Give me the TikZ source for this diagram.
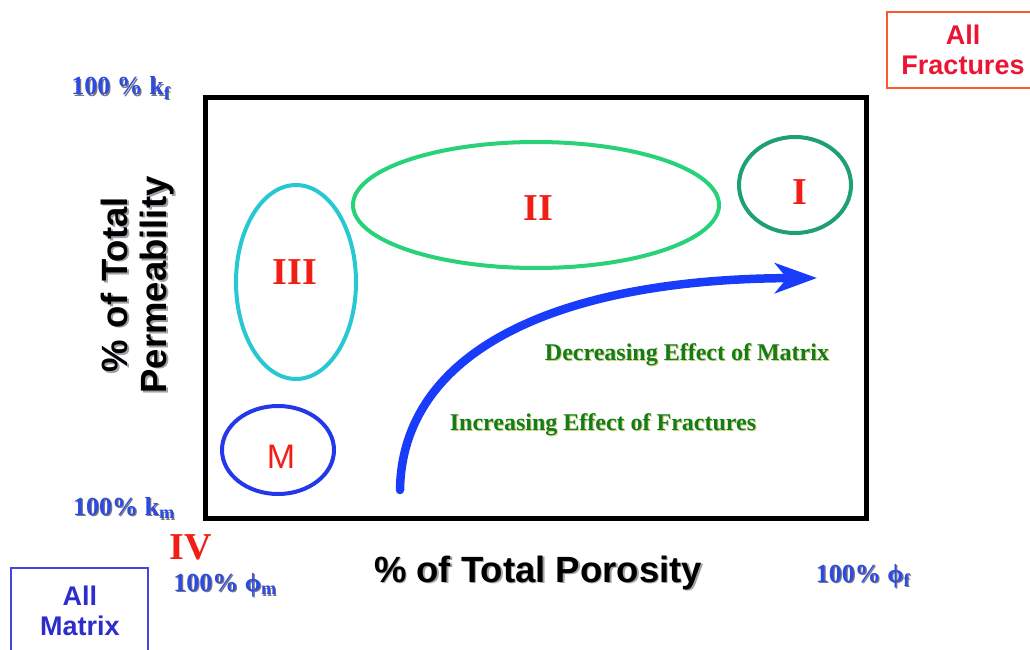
\documentclass[tikz,border=0pt]{standalone}
\usepackage{fontspec}
\setmainfont{Liberation Serif}
\setsansfont{Liberation Sans}
\usetikzlibrary{arrows.meta}
\definecolor{kblue}{RGB}{45,75,225}
\definecolor{kred}{RGB}{240,30,20}
\definecolor{kgreen}{RGB}{20,125,25}
\definecolor{ellM}{RGB}{35,55,235}
\definecolor{ellIII}{RGB}{40,200,210}
\definecolor{ellII}{RGB}{40,210,120}
\definecolor{ellI}{RGB}{30,160,115}
\definecolor{boxorange}{RGB}{250,90,40}
\definecolor{boxred}{RGB}{235,20,50}
\definecolor{boxblue}{RGB}{70,70,220}
\definecolor{boxbluetext}{RGB}{45,45,205}
\definecolor{arrblue}{RGB}{25,60,250}
\definecolor{shadowgray}{RGB}{120,120,130}
\tikzset{
  pctfont/.style={font=\fontsize{26}{30}\selectfont\bfseries, inner sep=0pt},
  pctlabel/.style={pctfont, text=kblue},
  pctshadow/.style={pctfont, text=shadowgray},
  romanlabel/.style={text=kred, font=\fontsize{38}{42}\selectfont\bfseries, inner sep=0pt},
  axisfont/.style={font=\sffamily\fontsize{36.5}{42}\selectfont\bfseries, inner sep=0pt, align=center},
  axistitle/.style={axisfont, text=black},
  axisshadow/.style={axisfont, text=shadowgray!70},
  effectfont/.style={font=\fontsize{24}{28}\selectfont\bfseries, inner sep=0pt},
  effect/.style={effectfont, text=kgreen},
  effectshadow/.style={effectfont, text=olive!40},
  boxtext/.style={font=\sffamily\fontsize{27}{30}\selectfont\bfseries, align=center, inner sep=0pt}
}
\begin{document}
\begin{tikzpicture}[x=1pt,y=-1pt]
\useasboundingbox (0,0) rectangle (1030,650);
\clip (0,0) rectangle (1030,650);

% frame
\node[draw=black, line width=5pt, minimum width=661pt, minimum height=420pt, inner sep=0pt] (frame) at (535.5,308) {};

% ellipses
\draw[ellM, line width=4pt] (278,450) ellipse [x radius=56, y radius=44];
\draw[ellIII, line width=4pt] (296,282) ellipse [x radius=60, y radius=97];
\draw[ellII, line width=4pt] (536,205) ellipse [x radius=183, y radius=63];
\draw[ellI, line width=4pt] (795,185) ellipse [x radius=56, y radius=48];

% region labels
\node[romanlabel] (lIII) at (295,272) {III};
\node[romanlabel] (lII) at (538,208) {II};
\node[romanlabel] (lI) at (800,192) {I};
\node[text=kred, font=\sffamily\fontsize{34}{38}\selectfont, inner sep=0pt] (lM) at (281,457) {M};
\node[romanlabel] (lIV) at (191,547) {IV};

% blue arrow
\coordinate (arrS) at (400,490);
\coordinate (arrE) at (817,278);
\draw[arrblue, line width=8.5pt, line cap=round, -{Stealth[length=42pt, width=30pt, inset=12pt]}]
  (arrS) .. controls (402,352) and (555,279) .. (arrE);

% effect texts
\node[effectshadow] (decs) at (688,356) {Decreasing Effect of Matrix};
\node[effect] (dec) at (687,355) {Decreasing Effect of Matrix};
\node[effectshadow] (incs) at (604,426) {Increasing Effect of Fractures};
\node[effect] (inc) at (603,425) {Increasing Effect of Fractures};

% percent labels
\node[pctshadow] (kfs) at (122.2,89.2) {100 \% k\textsubscript{f}};
\node[pctlabel] (kf) at (121,88) {100 \% k\textsubscript{f}};
\node[pctshadow] (kms) at (125.2,509.2) {100\% k\textsubscript{m}};
\node[pctlabel] (km) at (124,508) {100\% k\textsubscript{m}};
\node[pctshadow] (phims) at (226.2,586.2) {100\% ϕ\textsubscript{m}};
\node[pctlabel] (phim) at (225,585) {100\% ϕ\textsubscript{m}};
\node[pctshadow] (phifs) at (864.2,577.2) {100\% ϕ\textsubscript{f}};
\node[pctlabel] (phif) at (863,576) {100\% ϕ\textsubscript{f}};

% axis titles
\node[axisshadow] (xts) at (539.5,574.5) {\% of Total Porosity};
\node[axistitle] (xt) at (538,573) {\% of Total Porosity};
\node[axisshadow, rotate=90, text width=240pt] (yts) at (139.5,286.5) {\% of Total\\[-3pt]Permeability};
\node[axistitle, rotate=90, text width=240pt] (yt) at (138,285) {\% of Total\\[-3pt]Permeability};

% corner boxes
\draw[boxorange, line width=2.5pt] (887,12) rectangle (1040,88);
\node[boxtext, text=boxred] (allf) at (963,50) {All\\Fractures};
\draw[boxblue, line width=2.5pt] (11,568) rectangle (148,660);
\node[boxtext, text=boxbluetext] (allm) at (80,611) {All\\Matrix};
\end{tikzpicture}
\end{document}
